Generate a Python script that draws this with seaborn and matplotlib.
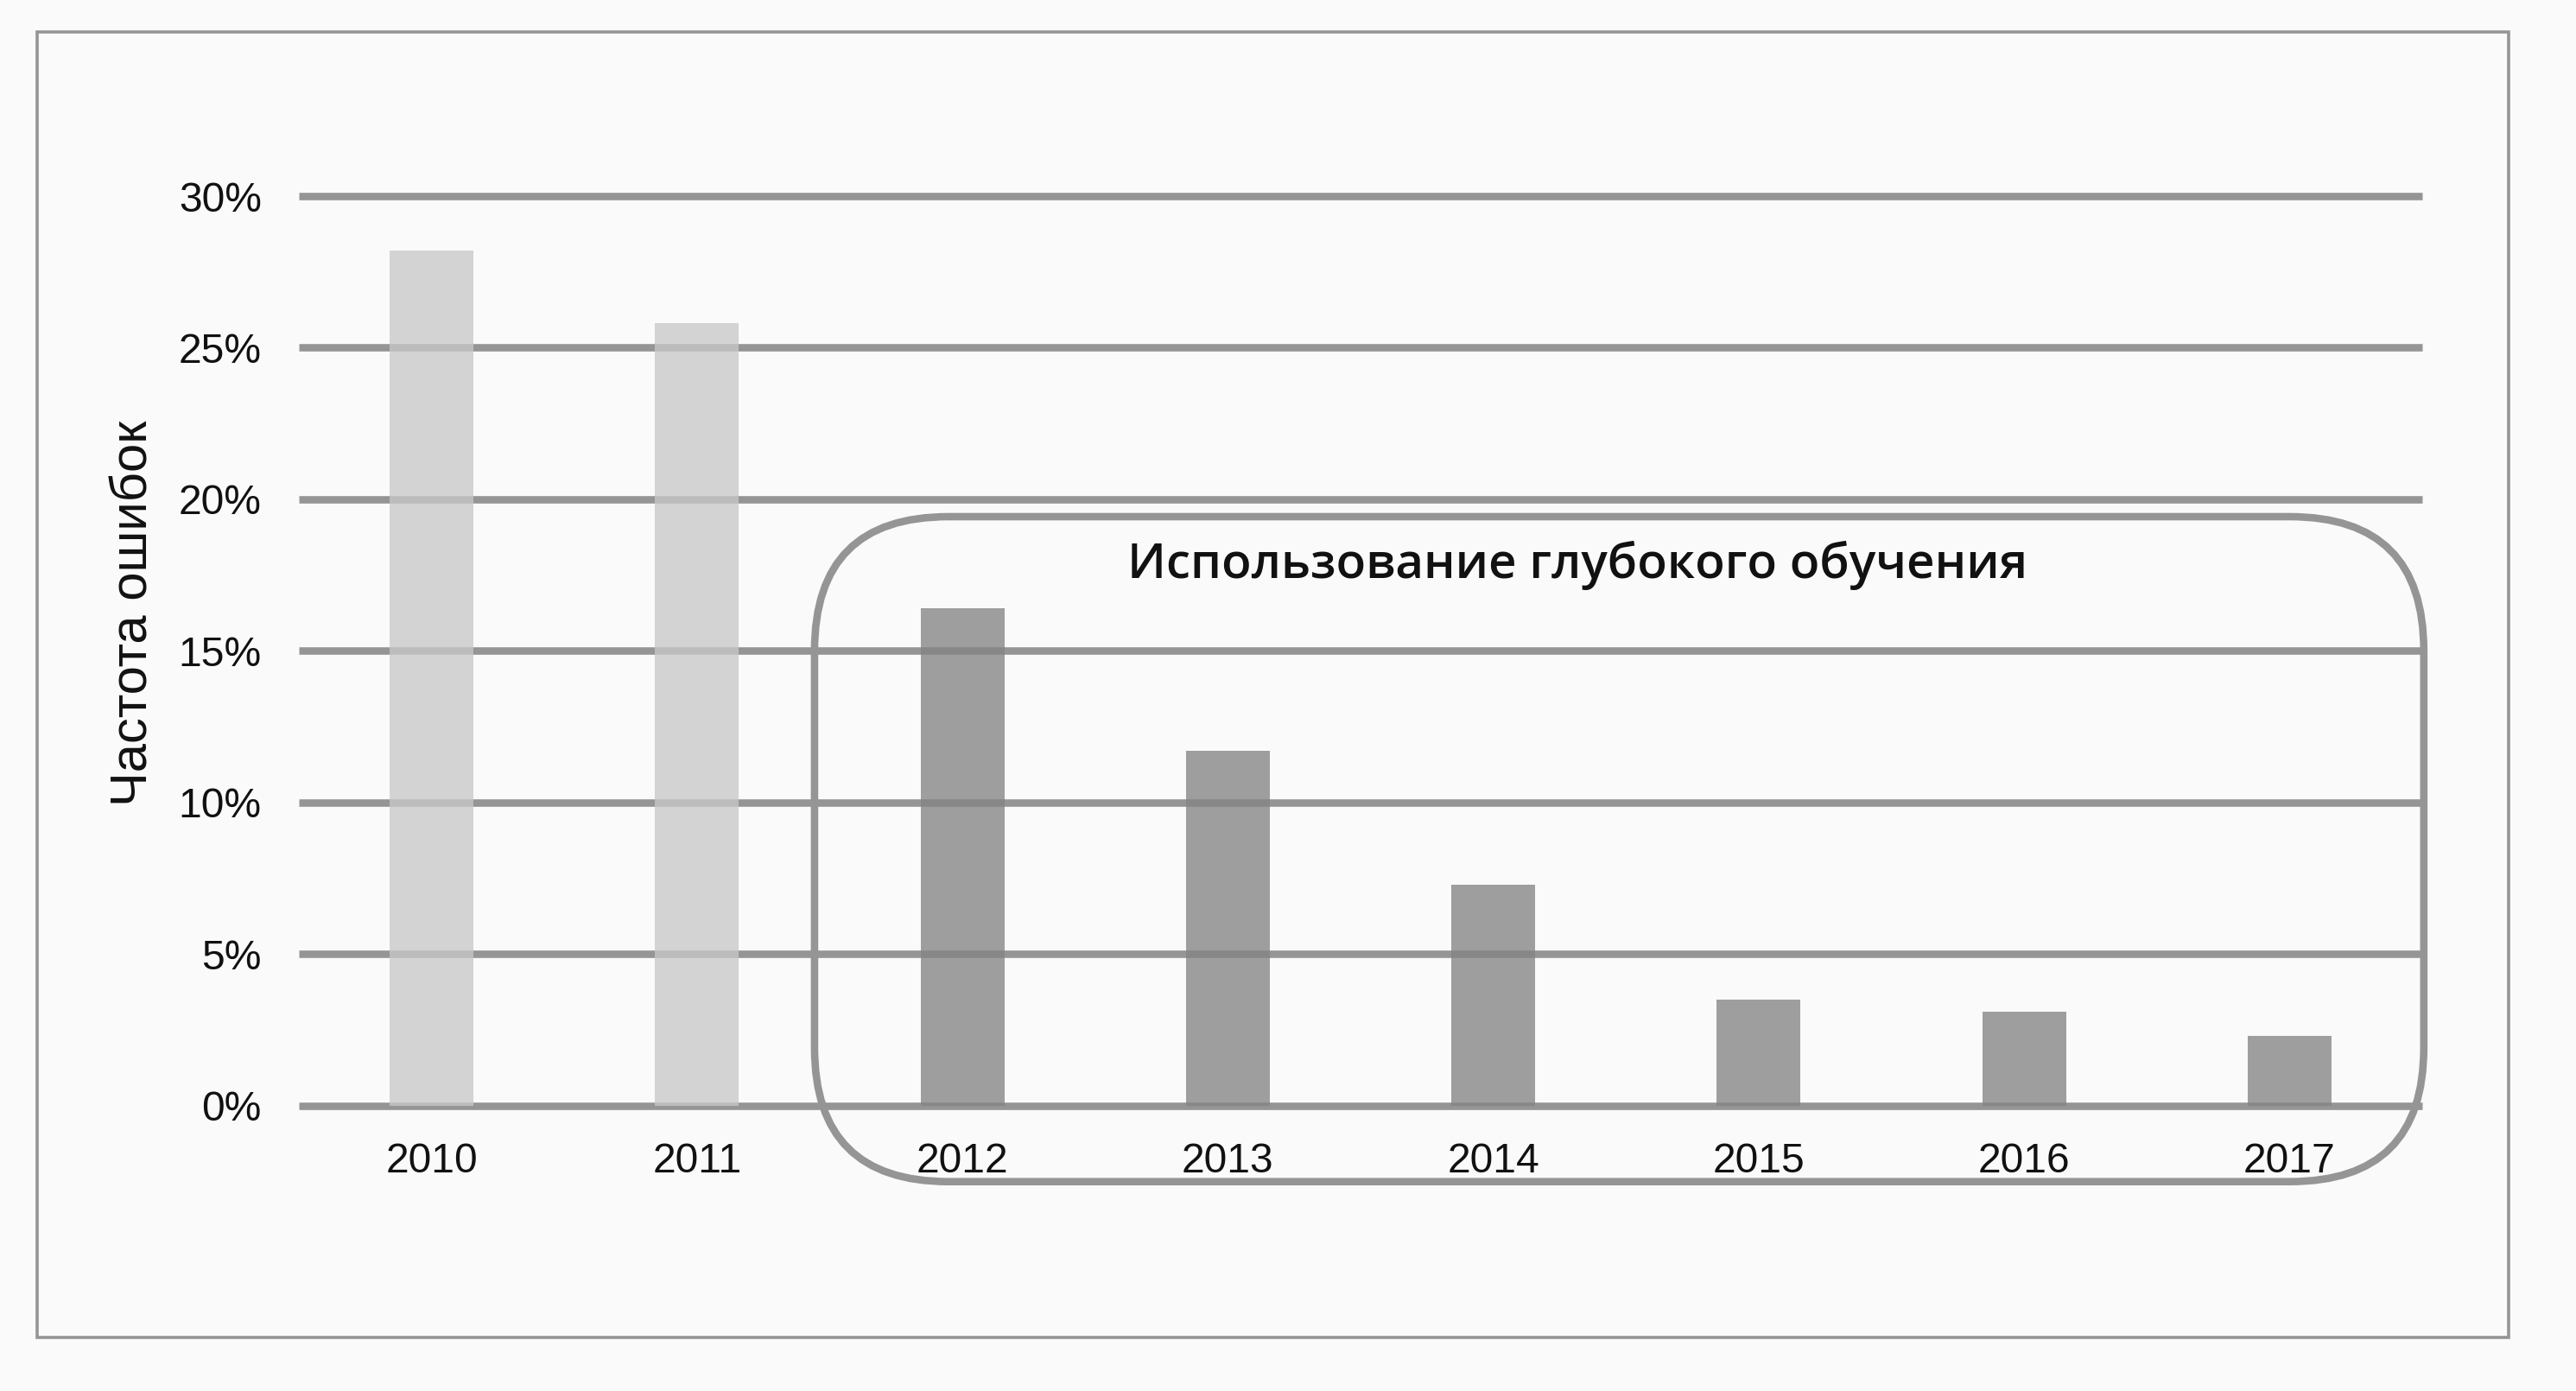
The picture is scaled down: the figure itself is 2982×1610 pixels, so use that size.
import numpy as np
import pandas as pd
import matplotlib
matplotlib.use('Agg')
from matplotlib import pyplot as plt
from matplotlib.patches import FancyBboxPatch, Rectangle
import seaborn as sns

# данные
years = ['2010', '2011', '2012', '2013', '2014', '2015', '2016', '2017']
error_rate = [28.2, 25.8, 16.4, 11.7, 7.3, 3.5, 3.1, 2.3]
bar_colors = ['#c8c8c8', '#c8c8c8', '#848484', '#848484', '#848484', '#848484', '#848484', '#848484']
y_ticks = [0, 5, 10, 15, 20, 25, 30]
y_tick_labels = ['0%', '5%', '10%', '15%', '20%', '25%', '30%']
y_label = 'Частота ошибок'
box_title = 'Использование глубокого обучения'

grid_color = '#959595'
bg_color = '#fafafa'
text_color = '#111111'

df = pd.DataFrame({'year': years, 'rate': error_rate})

sns.set_style("white")
plt.rcParams['font.family'] = ['Liberation Sans', 'DejaVu Sans']

fig = plt.figure(figsize=(14.91, 8.05), dpi=200, facecolor=bg_color)
ax = fig.add_axes([0.1160, 0.2050, 0.8243, 0.6540])
ax.set_facecolor(bg_color)

# горизонтальные линии сетки
ax.hlines(y_ticks, -0.5, 7.5, colors=grid_color, linewidth=3.1, zorder=1, clip_on=False)

sns.barplot(data=df, x='year', y='rate', hue='year', palette=bar_colors, order=years,
            hue_order=years, dodge=False, legend=False, width=0.316, alpha=0.78,
            saturation=1, linewidth=0, zorder=2, ax=ax)

ax.set_xlim(-0.5, 7.5)
ax.set_ylim(0, 30)
ax.set_yticks(y_ticks)
ax.set_yticklabels(y_tick_labels)
ax.tick_params(axis='y', length=0, pad=15.5, labelsize=17.3, labelcolor=text_color)
ax.tick_params(axis='x', length=0, pad=15, labelsize=17.3, labelcolor=text_color)
ax.set_xlabel('')
ax.set_ylabel('')
sns.despine(ax=ax, left=True, bottom=True)

fig.text(0.052, 0.559, y_label, rotation=90, ha='center', va='center',
         fontsize=21.5, color=text_color)

# скруглённая рамка
x0, x1 = 1.443, 7.506
y0, y1 = -2.5, 19.43
box = FancyBboxPatch((x0, y0), x1 - x0, y1 - y0,
                     boxstyle="round,pad=0,rounding_size=0.505",
                     mutation_aspect=8.75, fill=False, edgecolor=grid_color,
                     linewidth=3.1, clip_on=False, zorder=3)
ax.add_patch(box)
ax.text(4.317, 17.41, box_title, ha='center', va='baseline', fontsize=20.4,
        fontweight='semibold', family=['Open Sans', 'DejaVu Sans'], color=text_color, zorder=4)

# внешняя рамка
frame = Rectangle((43 / 2982, 1 - 1548 / 1610), (2904 - 43) / 2982, (1548 - 37) / 1610,
                  transform=fig.transFigure, fill=False, edgecolor=grid_color, linewidth=1.3)
fig.add_artist(frame)

plt.savefig('out.png', dpi=200, facecolor=bg_color)
